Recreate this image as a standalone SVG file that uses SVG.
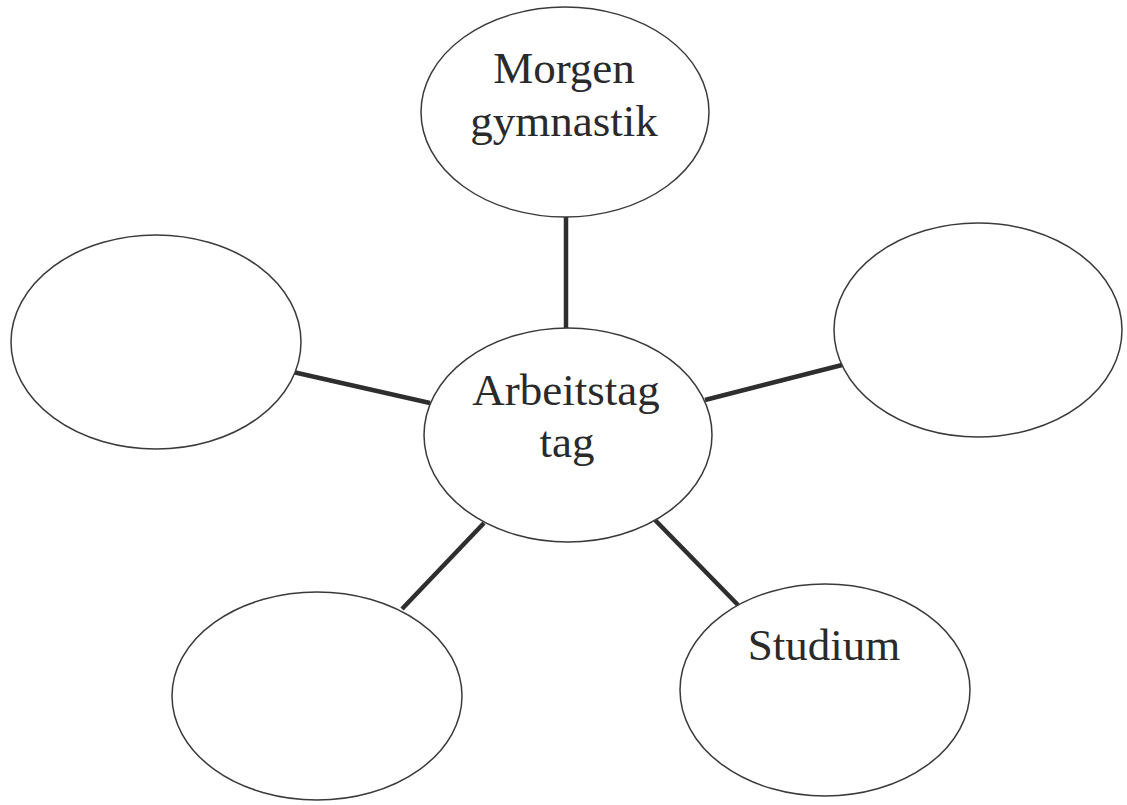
<svg xmlns="http://www.w3.org/2000/svg" width="1127" height="805" viewBox="0 0 1127 805">
<style>
.node{fill:#ffffff;stroke:#3a3a3a;stroke-width:1.5}
.lbl{font-family:"Liberation Serif","Times New Roman",serif;font-size:45px;fill:#2a2a2a;text-anchor:middle}
.conn{stroke:#2e2e2e;stroke-width:4.5;stroke-linecap:butt}
</style>
<rect width="1127" height="805" fill="#ffffff"/>
<g id="connectors">
<line class="conn" x1="566" y1="216" x2="566" y2="329"/>
<line class="conn" x1="293" y1="372" x2="430" y2="403"/>
<line class="conn" x1="705" y1="400" x2="842" y2="365"/>
<line class="conn" x1="402" y1="609" x2="484" y2="523"/>
<line class="conn" x1="655" y1="520" x2="738" y2="605"/>
</g>
<g id="center">
<ellipse class="node" cx="568" cy="435" rx="144" ry="107"/>
<text class="lbl" x="566" y="405">Arbeitstag</text>
<text class="lbl" x="567" y="457">tag</text>
</g>
<g id="morgen">
<ellipse class="node" cx="565" cy="112" rx="144" ry="105"/>
<text class="lbl" x="564" y="83">Morgen</text>
<text class="lbl" x="564" y="136">gymnastik</text>
</g>
<g id="left">
<ellipse class="node" cx="156" cy="342" rx="145" ry="107"/>
</g>
<g id="right">
<ellipse class="node" cx="978" cy="330" rx="144" ry="107"/>
</g>
<g id="bottomleft">
<ellipse class="node" cx="317" cy="696" rx="145" ry="104"/>
</g>
<g id="studium">
<ellipse class="node" cx="825" cy="690" rx="145" ry="106"/>
<text class="lbl" x="824" y="660">Studium</text>
</g>
</svg>
